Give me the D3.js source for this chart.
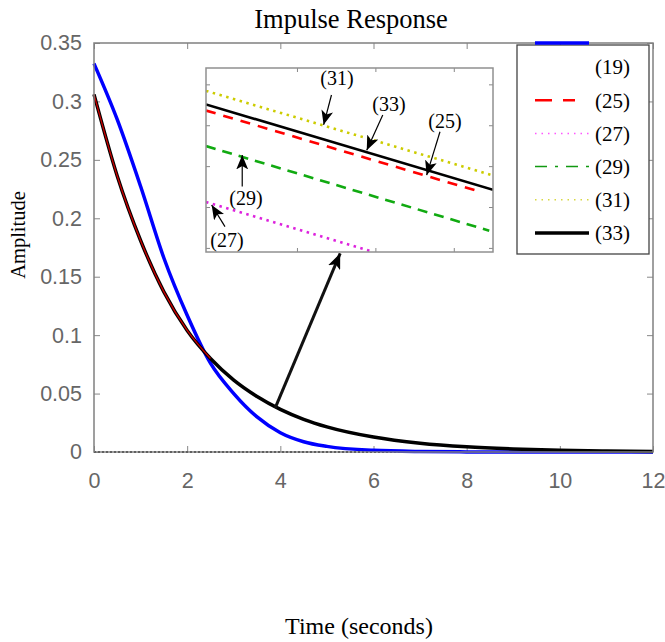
<!DOCTYPE html>
<html>
<head>
<meta charset="utf-8">
<script src="https://cdn.jsdelivr.net/npm/d3@7"></script>
<style>
	body { margin: 0; background: #fff; }
</style>
</head>
<body>
<script>
//main plot data
let times = [0, 0.5, 1, 1.5, 2, 2.5, 3, 3.5, 4, 4.5, 5, 6, 7, 8, 9, 10, 11, 12];
let resp19 = [0.3324, 0.2844, 0.2274, 0.166, 0.117, 0.076, 0.050, 0.030, 0.0165, 0.0088, 0.0048, 0.0014, 0.0004, 0.0001, 0, 0, 0, 0];
let resp33 = [0.306, 0.236, 0.181, 0.137, 0.104, 0.080, 0.0615, 0.0475, 0.0365, 0.028, 0.0215, 0.0128, 0.0075, 0.0044, 0.0026, 0.0015, 0.0009, 0.0005];
let resp25 = [0.306, 0.236, 0.181, 0.137, 0.104, 0.080]; //red, only seen inside the black line up to t=2.5

let xTicks = [0, 2, 4, 6, 8, 10, 12];
let yTicks = [0, 0.05, 0.1, 0.15, 0.2, 0.25, 0.3, 0.35];

//zoomed inset data (two ends of each nearly straight line)
let insetT = {
	y31: [3.892, 4.0744], y33: [3.892, 4.075], y25: [3.892, 4.067], y29: [3.892, 4.0726], y27: [3.892, 3.997]
};
let inset31 = [0.03984, 0.03778];
let inset33 = [0.03951, 0.03742];
let inset25 = [0.03936, 0.03737];
let inset29 = [0.03849, 0.03642];
let inset27 = [0.03712, 0.03592];
let insetXTicks = [3.95, 4.0, 4.05];
let insetYTicks = [0.036, 0.037, 0.038, 0.039, 0.040];

//inset labels with arrow (text pos, arrow start, arrow tip) in inset data units
let notes = [
	{ label: "(31)", tx: 3.9755, ty: 0.04016, x0: 3.972, y0: 0.03974, x1: 3.967, y1: 0.03901 },
	{ label: "(33)", tx: 4.0087, ty: 0.03952, x0: 4.0047, y0: 0.03925, x1: 3.9945, y1: 0.03839 },
	{ label: "(25)", tx: 4.0444, ty: 0.03910, x0: 4.0412, y0: 0.03884, x1: 4.0327, y1: 0.03778 },
	{ label: "(29)", tx: 3.9175, ty: 0.03722, x0: 3.9151, y0: 0.03750, x1: 3.9151, y1: 0.03827 },
	{ label: "(27)", tx: 3.9054, ty: 0.03619, x0: 3.9041, y0: 0.03652, x1: 3.8956, y1: 0.03705 }
];

let legendLabels = ["(19)", "(25)", "(27)", "(29)", "(31)", "(33)"];
let legendColors = ["#0000ff", "#ff0000", "#ff55ff", "#119911", "#d8d840", "#000000"];
let legendDash = [null, "17,11", "1.5,5", "12,8,3,8", "1.5,5", null];
let legendWidth = [3.5, 2.5, 1.5, 1.5, 1.5, 3.5];

let serif = "'Liberation Serif', 'Times New Roman', serif";
let sans = "'Liberation Sans', Arial, sans-serif";

let svg = d3.select("body").append("svg")
	.attr("width", 665)
	.attr("height", 642);

let margin = { top: 43, right: 12, bottom: 190, left: 94 };
let width = 665 - margin.left - margin.right;
let height = 642 - margin.top - margin.bottom;

let g = svg.append("g")
	.attr("transform", `translate(${margin.left}, ${margin.top})`);

let scaleX = d3.scaleLinear().domain([0, 12]).range([0, width]);
let scaleY = d3.scaleLinear().domain([0, 0.35]).range([height, 0]);

//axes with inward ticks, on all four sides like matlab
function styleAxis(sel) {
	sel.select(".domain").remove();
	sel.selectAll(".tick line").attr("stroke", "#888");
	sel.selectAll("text")
		.attr("font-family", sans)
		.attr("font-size", 21.5)
		.attr("fill", "#666");
}

g.append("g")
	.attr("transform", `translate(0, ${height})`)
	.call(d3.axisBottom(scaleX).tickValues(xTicks).tickSize(-6).tickPadding(21).tickFormat(d3.format("d")))
	.call(styleAxis);
g.append("g")
	.call(d3.axisTop(scaleX).tickValues(xTicks).tickSize(-6).tickFormat(""))
	.call(styleAxis);
g.append("g")
	.call(d3.axisLeft(scaleY).tickValues(yTicks).tickSize(-6).tickPadding(12).tickFormat(d => d === 0 ? "0" : d3.format("")(+d.toFixed(2))))
	.call(styleAxis);
g.append("g")
	.attr("transform", `translate(${width}, 0)`)
	.call(d3.axisRight(scaleY).tickValues(yTicks).tickSize(-6).tickFormat(""))
	.call(styleAxis);

//zero line
g.append("line")
	.attr("x1", scaleX(0)).attr("x2", scaleX(12))
	.attr("y1", scaleY(0)).attr("y2", scaleY(0))
	.attr("stroke", "#000")
	.attr("stroke-width", 1.8)
	.attr("stroke-dasharray", "2,2");

let line = d3.line()
	.x(d => scaleX(d[0]))
	.y(d => scaleY(d[1]))
	.curve(d3.curveMonotoneX);

g.append("path")
	.datum(times.map((t, i) => [t, resp19[i]]))
	.attr("fill", "none")
	.attr("stroke", "#0000ff")
	.attr("stroke-width", 3.5)
	.attr("d", line);

g.append("path")
	.datum(times.map((t, i) => [t, resp33[i]]))
	.attr("fill", "none")
	.attr("stroke", "#000")
	.attr("stroke-width", 3.5)
	.attr("d", line);

g.append("path")
	.datum(resp25.map((v, i) => [times[i], v]))
	.attr("fill", "none")
	.attr("stroke", "#cc0000")
	.attr("stroke-width", 1.3)
	.attr("d", line);

//axes box
g.append("rect")
	.attr("width", width).attr("height", height)
	.attr("fill", "none")
	.attr("stroke", "#808080")
	.attr("stroke-width", 1.5);

//arrowheads
let defs = svg.append("defs");
function addHead(id, size) {
	defs.append("marker")
		.attr("id", id)
		.attr("viewBox", "0 0 12 10")
		.attr("refX", 12).attr("refY", 5)
		.attr("markerUnits", "userSpaceOnUse")
		.attr("markerWidth", size * 1.2).attr("markerHeight", size)
		.attr("orient", "auto")
		.append("path")
		.attr("d", "M0,0 L12,5 L0,10 L3,5 Z")
		.attr("fill", "#000");
}
addHead("bigHead", 13);
addHead("smallHead", 12);

//big arrow from curve up to the inset
g.append("line")
	.attr("x1", scaleX(3.888)).attr("y1", scaleY(0.0376))
	.attr("x2", scaleX(5.285)).attr("y2", scaleY(0.170))
	.attr("stroke", "#111")
	.attr("stroke-width", 3)
	.attr("marker-end", "url(#bigHead)");

//inset
let inset = { left: 206, top: 68, right: 493, bottom: 252 };
let ix = d3.scaleLinear().domain([3.892, 4.075]).range([inset.left, inset.right]);
let iy = d3.scaleLinear().domain([0.0359, 0.0404]).range([inset.bottom, inset.top]);

let ig = svg.append("g");
ig.append("rect")
	.attr("x", inset.left).attr("y", inset.top)
	.attr("width", inset.right - inset.left).attr("height", inset.bottom - inset.top)
	.attr("fill", "#fff");

defs.append("clipPath").attr("id", "insetClip")
	.append("rect")
	.attr("x", inset.left).attr("y", inset.top)
	.attr("width", inset.right - inset.left).attr("height", inset.bottom - inset.top);

function insetAxis(axis, tx, ty) {
	ig.append("g")
		.attr("transform", `translate(${tx}, ${ty})`)
		.call(axis.tickSize(-4).tickFormat(""))
		.call(s => s.select(".domain").remove())
		.call(s => s.selectAll(".tick line").attr("stroke", "#888"));
}
insetAxis(d3.axisBottom(ix).tickValues(insetXTicks), 0, inset.bottom);
insetAxis(d3.axisTop(ix).tickValues(insetXTicks), 0, inset.top);
insetAxis(d3.axisLeft(iy).tickValues(insetYTicks), inset.left, 0);
insetAxis(d3.axisRight(iy).tickValues(insetYTicks), inset.right, 0);

let iline = d3.line().x(d => ix(d[0])).y(d => iy(d[1]));
let insetSeries = [
	{ t: insetT.y31, v: inset31, color: "#cccc00", dash: "2.5,4.5", w: 2.6 },
	{ t: insetT.y29, v: inset29, color: "#11aa11", dash: "10,7", w: 2.6 },
	{ t: insetT.y27, v: inset27, color: "#dd22dd", dash: "2.5,4.5", w: 2.6 },
	{ t: insetT.y25, v: inset25, color: "#ff0000", dash: "10,8", w: 2.6 },
	{ t: insetT.y33, v: inset33, color: "#000", dash: null, w: 2.6 }
];
let ilines = ig.append("g").attr("clip-path", "url(#insetClip)");
insetSeries.forEach(s => {
	ilines.append("path")
		.datum(s.t.map((t, i) => [t, s.v[i]]))
		.attr("fill", "none")
		.attr("stroke", s.color)
		.attr("stroke-width", s.w)
		.attr("stroke-dasharray", s.dash)
		.attr("d", iline);
});

ig.append("rect")
	.attr("x", inset.left).attr("y", inset.top)
	.attr("width", inset.right - inset.left).attr("height", inset.bottom - inset.top)
	.attr("fill", "none")
	.attr("stroke", "#909090")
	.attr("stroke-width", 1.5);

//inset notes
notes.forEach(n => {
	ig.append("line")
		.attr("x1", ix(n.x0)).attr("y1", iy(n.y0))
		.attr("x2", ix(n.x1)).attr("y2", iy(n.y1))
		.attr("stroke", "#000")
		.attr("stroke-width", 1.2)
		.attr("marker-end", "url(#smallHead)");
	ig.append("text")
		.attr("x", ix(n.tx)).attr("y", iy(n.ty))
		.attr("dy", "0.35em")
		.attr("text-anchor", "middle")
		.attr("font-family", serif)
		.attr("font-size", 20)
		.text(n.label);
});

//legend
let lg = svg.append("g").attr("transform", "translate(517, 45)");
lg.append("rect")
	.attr("width", 132).attr("height", 209)
	.attr("fill", "#fff")
	.attr("stroke", "#444")
	.attr("stroke-width", 1.3);

let legendY = d3.scalePoint().domain(legendLabels).range([22, 188]);
legendLabels.forEach((lab, i) => {
	//first entry's sample sits on the top edge of the axes
	let yy = i === 0 ? -2 : legendY(lab);
	lg.append("line")
		.attr("x1", 18).attr("x2", i === 1 ? 58 : 72)
		.attr("y1", yy).attr("y2", yy)
		.attr("stroke", legendColors[i])
		.attr("stroke-width", legendWidth[i])
		.attr("stroke-dasharray", legendDash[i]);
	lg.append("text")
		.attr("x", 78).attr("y", legendY(lab))
		.attr("dy", "0.35em")
		.attr("font-family", serif)
		.attr("font-size", 21)
		.text(lab);
});

//titles
svg.append("text")
	.attr("x", 351).attr("y", 28)
	.attr("text-anchor", "middle")
	.attr("font-family", serif)
	.attr("font-size", 26.5)
	.text("Impulse Response");

svg.append("text")
	.attr("x", 359).attr("y", 634)
	.attr("text-anchor", "middle")
	.attr("font-family", serif)
	.attr("font-size", 24)
	.text("Time (seconds)");

svg.append("text")
	.attr("transform", "translate(25, 235) rotate(-90)")
	.attr("text-anchor", "middle")
	.attr("font-family", serif)
	.attr("font-size", 20.5)
	.text("Amplitude");
</script>
</body>
</html>
